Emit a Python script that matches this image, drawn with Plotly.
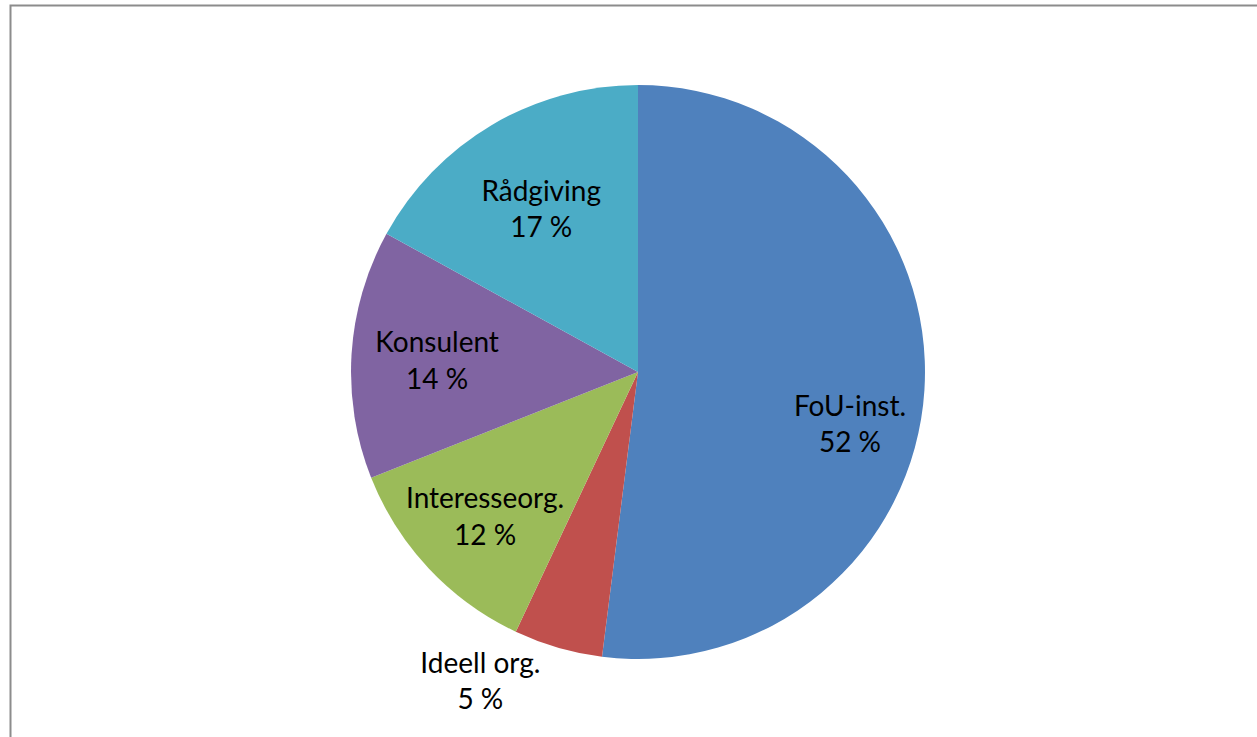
import plotly.graph_objects as go

labels = ["FoU-inst.", "Ideell org.", "Interesseorg.", "Konsulent", "Rådgiving"]
values = [52, 5, 12, 14, 17]
colors = ["#4F81BD", "#C0504D", "#9BBB59", "#8064A2", "#4BACC6"]
positions = ["inside", "outside", "inside", "inside", "inside"]
# slices whose label sits in the outer ring (drawn by the overlay pie)
ring_label = [True, False, False, False, False]

W, H = 1257, 737
cx, cy, r = 638, 372, 287
domain = dict(x=[(cx - r) / W, (cx + r) / W], y=[(H - cy - r) / H, (H - cy + r) / H])
font = dict(family="Lato, Open Sans, sans-serif", size=28, color="black")

texts = [f"{l}<br>{v} %" for l, v in zip(labels, values)]

fig = go.Figure()
fig.add_trace(go.Pie(
    labels=labels,
    values=values,
    sort=False,
    direction="clockwise",
    rotation=0,
    marker=dict(colors=colors, line=dict(width=0)),
    text=[("" if rl else t) for t, rl in zip(texts, ring_label)],
    textinfo="text",
    textposition=positions,
    insidetextorientation="horizontal",
    textfont=font,
    domain=domain,
    showlegend=False,
    hoverinfo="skip",
))
fig.add_trace(go.Pie(
    labels=labels,
    values=values,
    sort=False,
    direction="clockwise",
    rotation=10,
    hole=0.52,
    marker=dict(colors=["rgba(0,0,0,0)"] * len(values), line=dict(width=0)),
    text=[(t if rl else "") for t, rl in zip(texts, ring_label)],
    textinfo="text",
    textposition="inside",
    insidetextorientation="horizontal",
    textfont=font,
    domain=domain,
    showlegend=False,
    hoverinfo="skip",
))

fig.add_shape(type="rect", xref="paper", yref="paper",
              x0=10.5 / W, x1=1.02, y0=-0.05, y1=1 - 5.5 / H,
              line=dict(color="#8c8c8c", width=2), fillcolor="rgba(0,0,0,0)")

fig.update_layout(
    width=W, height=H,
    margin=dict(l=0, r=0, t=0, b=0),
    paper_bgcolor="white",
    plot_bgcolor="white",
    uniformtext=dict(minsize=28, mode="show"),
)

fig.write_html("out.html", config={"displayModeBar": False},
               post_script="document.body.style.margin='0px';")
